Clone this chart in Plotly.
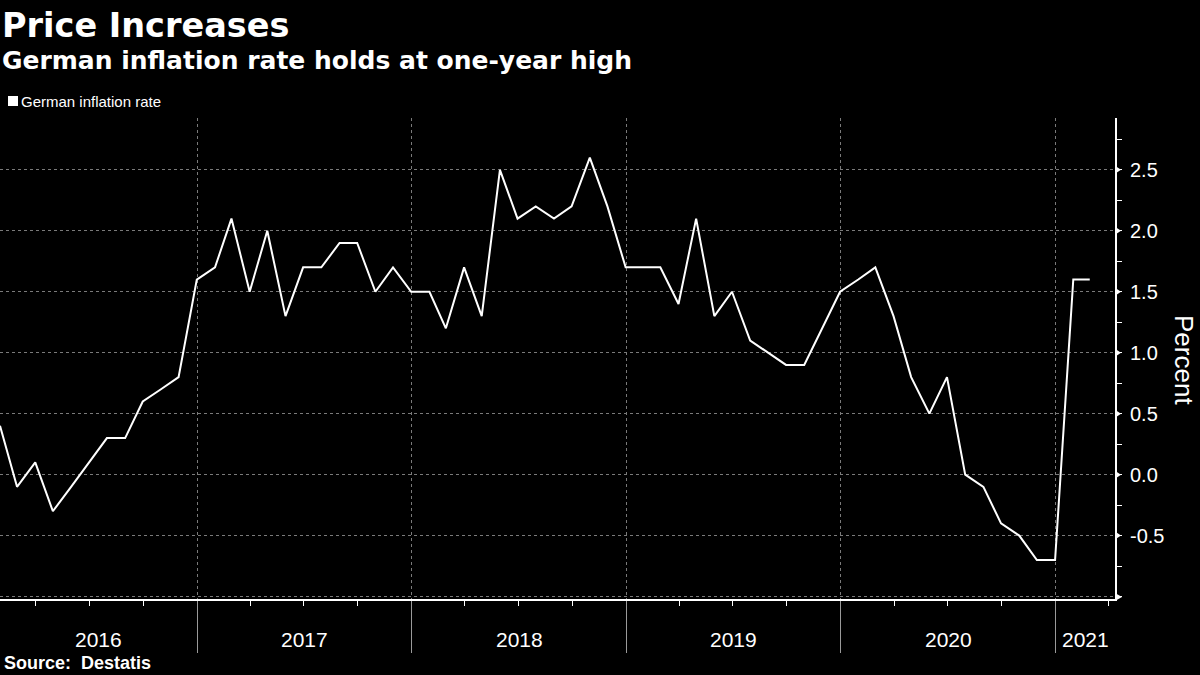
import pandas as pd
import plotly.graph_objects as go

# ---- data ----
months = pd.date_range("2016-01", periods=62, freq="MS").strftime("%Y-%m").tolist()
inflation = [
    0.4, -0.1, 0.1, -0.3, -0.1, 0.1, 0.3, 0.3, 0.6, 0.7, 0.8, 1.6,   # 2016
    1.7, 2.1, 1.5, 2.0, 1.3, 1.7, 1.7, 1.9, 1.9, 1.5, 1.7, 1.5,      # 2017
    1.5, 1.2, 1.7, 1.3, 2.5, 2.1, 2.2, 2.1, 2.2, 2.6, 2.2, 1.7,      # 2018
    1.7, 1.7, 1.4, 2.1, 1.3, 1.5, 1.1, 1.0, 0.9, 0.9, 1.2, 1.5,      # 2019
    1.6, 1.7, 1.3, 0.8, 0.5, 0.8, 0.0, -0.1, -0.4, -0.5, -0.7, -0.7, # 2020
    1.6, 1.6,                                                          # 2021
]
years = ["2016", "2017", "2018", "2019", "2020", "2021"]
y_ticks = [-0.5, 0.0, 0.5, 1.0, 1.5, 2.0, 2.5]
y_tick_text = ["-0.5", "0.0", "0.5", "1.0", "1.5", "2.0", "2.5"]

series_name = "German inflation rate"
title = "Price Increases"
subtitle = "German inflation rate holds at one-year high"
source = "Source:  Destatis"

# Bloomberg plots monthly values at month end
dates = [pd.Period(m, "M").end_time.normalize() for m in months]

# ---- layout geometry ----
W, H = 1200, 675
PL, PR, PT, PB = 0, 1115, 118, 599
x_range = [pd.Timestamp("2016-01-31"), pd.Timestamp("2021-04-12")]
y_range = [-1.02, 2.925]

FONT = "Liberation Sans, Arial, sans-serif"
TFONT = "DejaVu Sans, sans-serif"
GRID = "#7a7a7a"


def px_y(p):
    return (PB - p) / (PB - PT)


def px_x(p):
    return (p - PL) / (PR - PL)


fig = go.Figure()
fig.add_trace(go.Scatter(
    x=dates, y=inflation, mode="lines", name=series_name,
    line=dict(color="white", width=2), showlegend=False,
))

year_starts = [pd.Timestamp(f"{y}-01-01") for y in years]
year_ends = [pd.Timestamp(f"{int(y) + 1}-01-01") for y in years]

annotations = []
# year labels centred on the visible part of each year
for y, s, e in zip(years, year_starts, year_ends):
    s2 = max(s, x_range[0])
    e2 = min(e, x_range[1])
    mid = s2 + (e2 - s2) / 2
    annotations.append(dict(
        x=mid, y=px_y(639), xref="x", yref="paper", text=y, showarrow=False,
        font=dict(family=FONT, size=21, color="white"), xanchor="center", yanchor="middle",
    ))

annotations += [
    dict(x=px_x(0), y=px_y(25), xref="paper", yref="paper", text=f"<b>{title}</b>",
         showarrow=False, xanchor="left", yanchor="middle",
         font=dict(family=TFONT, size=33.5, color="white")),
    dict(x=px_x(0), y=px_y(60), xref="paper", yref="paper", text=f"<b>{subtitle}</b>",
         showarrow=False, xanchor="left", yanchor="middle",
         font=dict(family=TFONT, size=25, color="white")),
    dict(x=px_x(19), y=px_y(101), xref="paper", yref="paper", text=series_name,
         showarrow=False, xanchor="left", yanchor="middle",
         font=dict(family=FONT, size=15, color="white")),
    dict(x=px_x(2), y=px_y(663), xref="paper", yref="paper", text=f"<b>{source}</b>",
         showarrow=False, xanchor="left", yanchor="middle",
         font=dict(family=FONT, size=18, color="white")),
    dict(x=px_x(1184), y=px_y(360), xref="paper", yref="paper", text="Percent",
         showarrow=False, xanchor="center", yanchor="middle", textangle=90,
         font=dict(family=FONT, size=26, color="white")),
]

shapes = [
    # legend square
    dict(type="rect", xref="paper", yref="paper", x0=px_x(8), x1=px_x(18),
         y0=px_y(106), y1=px_y(96), fillcolor="white", line=dict(width=0)),
]
# small arrow heads at major y ticks
for v in y_ticks:
    shapes.append(dict(
        type="path", xref="paper", yref="y", xsizemode="pixel", ysizemode="pixel",
        xanchor=1, yanchor=v, path="M0,-4 L6,0 L0,4 Z",
        fillcolor="white", line=dict(width=0),
    ))
# arrow at end of x axis
shapes.append(dict(
    type="path", xref="paper", yref="paper", xsizemode="pixel", ysizemode="pixel",
    xanchor=1, yanchor=px_y(597), path="M0,-4 L7,0 L0,4 Z",
    fillcolor="white", line=dict(width=0),
))

fig.update_layout(
    width=W, height=H,
    paper_bgcolor="black", plot_bgcolor="black",
    margin=dict(l=PL, r=W - PR, t=PT, b=H - PB, pad=0),
    showlegend=False,
    annotations=annotations,
    shapes=shapes,
    font=dict(family=FONT, color="white"),
)

fig.update_xaxes(
    type="date", range=x_range,
    tickvals=year_starts[1:], ticktext=["" for _ in year_starts[1:]],
    ticks="outside", ticklen=52, tickcolor="#9a9a9a", tickwidth=1,
    showgrid=True, gridcolor=GRID, griddash="dot", gridwidth=1,
    showline=True, linecolor="white", linewidth=2,
    minor=dict(dtick="M3", tick0="2016-01-01", ticks="outside", ticklen=5,
               tickcolor="white", tickwidth=1, showgrid=False),
    zeroline=False,
)

fig.update_yaxes(
    side="right", range=y_range,
    tickvals=[-1.0] + y_ticks, ticktext=[""] + y_tick_text,
    ticks="", tickfont=dict(family=FONT, size=20, color="white"),
    ticklabelstandoff=9,
    showgrid=True, gridcolor=GRID, griddash="dot", gridwidth=1,
    showline=True, linecolor="white", linewidth=2,
    minor=dict(dtick=0.25, tick0=0, ticks="outside", ticklen=5,
               tickcolor="white", tickwidth=1, showgrid=False),
    zeroline=False,
)

fig.write_html(
    "out.html",
    config={"displayModeBar": False},
    post_script="document.body.style.margin='0';document.body.style.overflow='hidden';",
)
